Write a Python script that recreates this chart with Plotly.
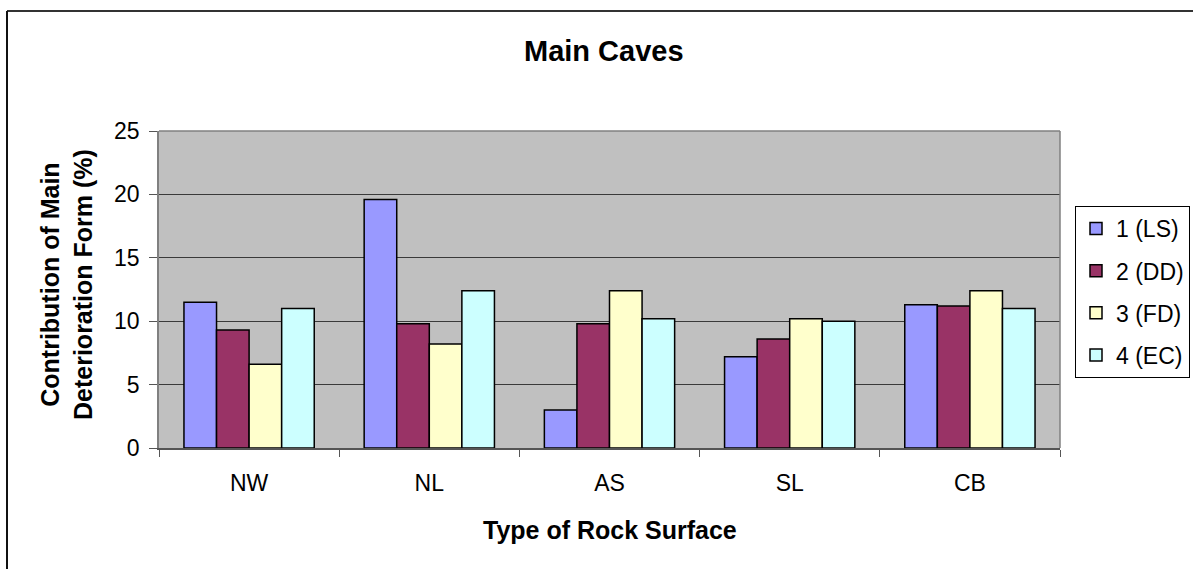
import plotly.graph_objects as go

categories = ["NW", "NL", "AS", "SL", "CB"]
series_names = ["1 (LS)", "2 (DD)", "3 (FD)", "4 (EC)"]
ls_values = [11.5, 19.6, 3.0, 7.2, 11.3]
dd_values = [9.3, 9.8, 9.8, 8.6, 11.2]
fd_values = [6.6, 8.2, 12.4, 10.2, 12.4]
ec_values = [11.0, 12.4, 10.2, 10.0, 11.0]
y_ticks = [0, 5, 10, 15, 20, 25]

colors = ["#9999FF", "#993366", "#FFFFCC", "#CCFFFF"]
all_values = [ls_values, dd_values, fd_values, ec_values]

FONT = "Liberation Sans, Arial, sans-serif"

fig = go.Figure()
for i, (name, vals) in enumerate(zip(series_names, all_values)):
    fig.add_trace(go.Bar(
        x=categories, y=vals, name=name,
        marker=dict(color=colors[i], line=dict(color="black", width=1.5)),
        legendgroup=f"g{i}",
    ))

# plot area pixel geometry
L, R, T, B = 159, 1060, 131, 448
W, H = 1193, 569
pw, ph = R - L, B - T

def px_x(p):
    return (p - L) / pw

def px_y(p):
    return (B - p) / ph

fig.update_layout(
    width=W, height=H,
    margin=dict(l=L, r=W - R, t=T, b=H - B, pad=0, autoexpand=False),
    paper_bgcolor="white",
    plot_bgcolor="#C0C0C0",
    barmode="group",
    bargap=0.277,
    bargroupgap=0,
    font=dict(family=FONT, color="black"),
    showlegend=True,
    legend=dict(
        xref="container", yref="container",
        x=1075 / W, y=1 - 206 / H, xanchor="left", yanchor="top",
        bgcolor="white", bordercolor="black", borderwidth=1,
        font=dict(size=23, family=FONT, color="black"),
        traceorder="grouped", tracegroupgap=9.3,
    ),
    xaxis=dict(
        type="category",
        showline=True, linecolor="#555555", linewidth=1.5,
        ticks="outside", tickson="boundaries", ticklen=7, tickcolor="#555555",
        tickfont=dict(size=23, family=FONT, color="black"),
        ticklabelstandoff=14,
        showgrid=False,
        range=[-0.5, 4.5],
    ),
    yaxis=dict(
        range=[0, 25],
        tickvals=y_ticks,
        ticks="outside", ticklen=8, tickcolor="#555555",
        tickfont=dict(size=23, family=FONT, color="black"),
        ticklabelstandoff=5,
        showline=True, linecolor="#808080", linewidth=1.5,
        showgrid=True, gridcolor="#3a3a3a", gridwidth=1.2,
        zeroline=False,
    ),
    annotations=[
        dict(text="<b>Main Caves</b>", xref="paper", yref="paper",
             x=px_x(604), y=px_y(51), xanchor="center", yanchor="middle",
             showarrow=False, font=dict(size=29, family=FONT, color="black")),
        dict(text="<b>Type of Rock Surface</b>", xref="paper", yref="paper",
             x=px_x(610), y=px_y(530), xanchor="center", yanchor="middle",
             showarrow=False, font=dict(size=25, family=FONT, color="black")),
        dict(text="<b>Contribution of Main<br>Deterioration Form (%)</b>",
             xref="paper", yref="paper",
             x=px_x(66), y=px_y(285), xanchor="center", yanchor="middle",
             textangle=-90, showarrow=False,
             font=dict(size=25, family=FONT, color="black")),
    ],
    shapes=[
        dict(type="line", xref="paper", yref="paper", x0=0, x1=1, y0=1, y1=1,
             line=dict(color="#808080", width=1.5)),
        dict(type="line", xref="paper", yref="paper", x0=1, x1=1, y0=0, y1=1,
             line=dict(color="#808080", width=1.5)),
        dict(type="line", xref="paper", yref="paper",
             x0=px_x(7), x1=px_x(W + 5), y0=px_y(11), y1=px_y(11),
             line=dict(color="#333333", width=2)),
        dict(type="line", xref="paper", yref="paper",
             x0=px_x(7), x1=px_x(7), y0=px_y(11), y1=px_y(H + 5),
             line=dict(color="#111111", width=2)),
    ],
)

fig.write_html(
    "out.html",
    config={"displayModeBar": False},
    post_script="document.body.style.margin='0';document.body.style.overflow='hidden';",
)
